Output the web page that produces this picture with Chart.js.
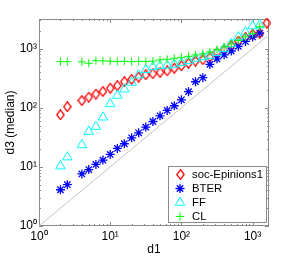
<!DOCTYPE html>
<html><head><meta charset="utf-8">
<script src="https://cdn.jsdelivr.net/npm/chart.js@4.4.0/dist/chart.umd.min.js"></script>
<style>html,body{margin:0;padding:0;background:#fff;overflow:hidden}#wrap{width:299px;height:257px;position:relative}</style>
</head><body><div id="wrap"><canvas id="c" width="299" height="257"></canvas></div>
<script>
// ---- data ----
const d1Epinions = [2.0, 2.5, 4.0, 5.0, 6.3, 7.9, 10, 12.6, 15.8, 20, 25.1, 31.6, 39.8, 50.1, 63.1, 79.4, 100, 126, 158, 200, 251, 316, 398, 501, 631, 794, 1000, 1259, 1585];
const d1Models   = [2.0, 2.5, 4.0, 5.0, 6.3, 7.9, 10, 12.6, 15.8, 20, 25.1, 31.6, 39.8, 50.1, 63.1, 79.4, 100, 126, 158, 200, 251, 316, 398, 501, 631, 794, 1000, 1259];
const socEpinions1 = [76, 104, 132, 151, 170, 188, 214, 236, 275, 302, 330, 360, 375, 395, 420, 465, 510, 565, 615, 650, 715, 855, 950, 1130, 1340, 1540, 1750, 1800, 2700];
const bter = [4.1, 5.0, 7.6, 9.0, 11.0, 13.0, 16.2, 20.5, 24.6, 31, 37.6, 47, 58.5, 73, 90, 108, 136, 187, 275, 322, 540, 670, 785, 910, 1090, 1320, 1570, 1830];
const ff = [10.3, 14.6, 23.4, 39.5, 48, 69, 116, 161, 206, 267, 355, 437, 490, 510, 520, 540, 575, 620, 680, 720, 760, 850, 990, 1200, 1570, 1900, 2400, 2500];
const cl = [600, 600, 595, 565, 625, 620, 610, 605, 610, 600, 610, 605, 615, 645, 660, 685, 710, 740, 780, 815, 875, 970, 1070, 1200, 1370, 1570, 1790, 2330];
const diagonal = [1, 1700];
const seriesNames = ['soc-Epinions1', 'BTER', 'FF', 'CL'];
const xTicks = [1, 10, 100, 1000];
const yTicks = [1, 10, 100, 1000];
const xTickLabels = ['10\u2070', '10\u00B9', '10\u00B2', '10\u00B3'];
const yTickLabels = ['10\u2070', '10\u00B9', '10\u00B2', '10\u00B3'];
const xRange = [1, 1700];
const yRange = [1, 3162];

const pts = (xs, ys) => ys.map((v, i) => ({x: xs[i], y: v}));
const FONT = '"Liberation Sans", Arial, sans-serif';
Chart.defaults.font.family = FONT;

const AXIS = '#8a8a8a';

// tall diamond marker (MATLAB style 'd')
const diamond = document.createElement('canvas');
diamond.width = 9; diamond.height = 11;
(() => {
  const c = diamond.getContext('2d');
  c.strokeStyle = '#ff0000'; c.lineWidth = 1.3;
  c.beginPath(); c.moveTo(4.5, 0.7); c.lineTo(8.2, 5.5); c.lineTo(4.5, 10.3); c.lineTo(0.8, 5.5); c.closePath(); c.stroke();
})();

const axisBox = {
  id: 'axisBox',
  beforeDatasetsDraw(chart) {
    const {ctx, chartArea: a, scales: {x, y}} = chart;
    ctx.save();
    ctx.strokeStyle = AXIS; ctx.lineWidth = 1;
    ctx.beginPath();
    const marks = (min, max) => { const out = []; for (let e = 0; e <= 4; e++) for (let m = 1; m < 10; m++) { const v = m * Math.pow(10, e); if (v >= min && v <= max) out.push([v, m === 1]); } return out; };
    for (const [v, maj] of marks(x.min, x.max)) {
      const p = Math.round(x.getPixelForValue(v)) + 0.5, L = maj ? 4 : 2;
      ctx.moveTo(p, a.bottom); ctx.lineTo(p, a.bottom - L);
      ctx.moveTo(p, a.top); ctx.lineTo(p, a.top + L);
    }
    for (const [v, maj] of marks(y.min, y.max)) {
      const p = Math.round(y.getPixelForValue(v)) + 0.5, L = maj ? 4 : 2;
      ctx.moveTo(a.left, p); ctx.lineTo(a.left + L, p);
      ctx.moveTo(a.right, p); ctx.lineTo(a.right - L, p);
    }
    ctx.stroke();
    ctx.strokeRect(a.left + 0.5, a.top + 0.5, a.right - a.left - 1, a.bottom - a.top - 1);
    ctx.restore();
  }
};

function marker(ctx, style, x, y, r) {
  if (style instanceof HTMLCanvasElement) { ctx.drawImage(style, Math.round(x - style.width / 2), Math.round(y - style.height / 2)); return; }
  ctx.beginPath();
  if (style === 'triangle') {
    let rad = 0;
    ctx.moveTo(x + Math.sin(rad) * r, y - Math.cos(rad) * r); rad += 2 * Math.PI / 3;
    ctx.lineTo(x + Math.sin(rad) * r, y - Math.cos(rad) * r); rad += 2 * Math.PI / 3;
    ctx.lineTo(x + Math.sin(rad) * r, y - Math.cos(rad) * r); ctx.closePath();
  } else if (style === 'cross') { ctx.moveTo(x - r, y); ctx.lineTo(x + r, y); ctx.moveTo(x, y - r); ctx.lineTo(x, y + r); }
  else if (style === 'star') {
    ctx.moveTo(x - r, y); ctx.lineTo(x + r, y); ctx.moveTo(x, y - r); ctx.lineTo(x, y + r);
    const d = r * Math.SQRT1_2;
    ctx.moveTo(x - d, y - d); ctx.lineTo(x + d, y + d); ctx.moveTo(x - d, y + d); ctx.lineTo(x + d, y - d);
  }
  ctx.stroke();
}

const legendBox = {
  id: 'legendBox',
  afterDraw(chart) {
    const {ctx, chartArea: a} = chart;
    const right = a.right - 3, bottom = a.bottom - 4, w = 98, h = 56;
    const left = right - w, top = bottom - h;
    ctx.save();
    ctx.fillStyle = '#fff'; ctx.fillRect(left, top, w, h);
    ctx.strokeStyle = AXIS; ctx.lineWidth = 1;
    ctx.strokeRect(left + 0.5, top + 0.5, w, h);
    ctx.font = '11.3px ' + FONT; ctx.textBaseline = 'middle'; ctx.fillStyle = '#000';
    const ds = chart.data.datasets.filter(d => seriesNames.includes(d.label));
    ds.sort((p, q) => seriesNames.indexOf(p.label) - seriesNames.indexOf(q.label));
    ds.forEach((d, i) => {
      const yy = top + 8.5 + i * 14;
      ctx.strokeStyle = d.borderColor; ctx.lineWidth = d.borderWidth;
      marker(ctx, d.pointStyle, left + 12, yy, d.pointRadius);
      ctx.fillStyle = '#000';
      ctx.fillText(d.label, left + 24, yy + 0.5);
    });
    ctx.restore();
  }
};

new Chart(document.getElementById('c'), {
  type: 'scatter',
  data: {
    datasets: [
      {type: 'line', label: 'diag', data: pts(diagonal, diagonal), borderColor: '#c4c4c4', borderWidth: 1, pointRadius: 0, showLine: true, order: 10},
      {label: seriesNames[0], data: pts(d1Epinions, socEpinions1), pointStyle: diamond, pointRadius: 4.5, borderColor: '#ff0000', backgroundColor: 'rgba(0,0,0,0)', borderWidth: 1, clip: false, order: 4},
      {label: seriesNames[1], data: pts(d1Models, bter), pointStyle: 'star', pointRadius: 4.5, borderColor: '#0000ff', backgroundColor: 'rgba(0,0,0,0)', borderWidth: 1.3, clip: false, order: 3},
      {label: seriesNames[2], data: pts(d1Models, ff), pointStyle: 'triangle', pointRadius: 5.5, borderColor: '#00ffff', backgroundColor: 'rgba(0,0,0,0)', borderWidth: 1, clip: false, order: 2},
      {label: seriesNames[3], data: pts(d1Models, cl), pointStyle: 'cross', pointRadius: 4, borderColor: '#00ff00', backgroundColor: 'rgba(0,0,0,0)', borderWidth: 1, clip: false, order: 1}
    ]
  },
  options: {
    responsive: false, animation: false, devicePixelRatio: 1,
    layout: {padding: {top: 19, right: 30, left: 0, bottom: 0}},
    plugins: {legend: {display: false}, tooltip: {enabled: false}},
    elements: {point: {hoverRadius: 4.5}},
    scales: {
      x: {
        type: 'logarithmic', position: 'bottom', min: xRange[0], max: xRange[1],
        grid: {display: false, drawTicks: false}, border: {display: false},
        afterBuildTicks: s => { s.ticks = xTicks.map(v => ({value: v})); },
        afterFit: s => { s.height = 31; },
        ticks: {autoSkip: false, maxRotation: 0, padding: 3, color: '#000', font: {size: 12}, callback: (v, i) => xTickLabels[i]},
        title: {display: true, text: 'd1', color: '#000', font: {size: 12}, padding: {top: 0, bottom: 0}}
      },
      y: {
        type: 'logarithmic', position: 'left', min: yRange[0], max: yRange[1],
        grid: {display: false, drawTicks: false}, border: {display: false},
        afterBuildTicks: s => { s.ticks = yTicks.map(v => ({value: v})); },
        afterFit: s => { s.width = 39; },
        ticks: {autoSkip: false, padding: 2, color: '#000', font: {size: 12}, callback: (v, i) => yTickLabels[i]},
        title: {display: true, text: 'd3 (median)', color: '#000', font: {size: 12}, padding: {top: 3, bottom: 0}}
      }
    }
  },
  plugins: [axisBox, legendBox]
});
</script>
</body></html>
